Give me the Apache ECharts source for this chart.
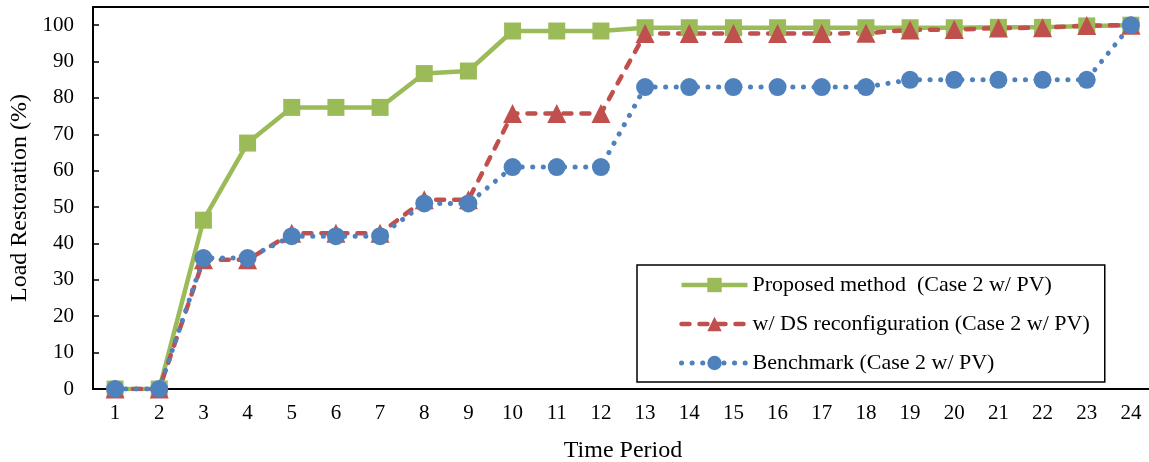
<!DOCTYPE html>
<html>
<head>
<meta charset="utf-8">
<script src="https://cdn.jsdelivr.net/npm/echarts@6/dist/echarts.min.js"></script>
<style>html,body{margin:0;padding:0;background:#fff}#c{width:1149px;height:462px}</style>
</head>
<body>
<div id="c"></div>
<script>
const categories = ['1','2','3','4','5','6','7','8','9','10','11','12','13','14','15','16','17','18','19','20','21','22','23','24'];
const proposed = [0,0,46.4,67.6,77.4,77.4,77.4,86.7,87.4,98.4,98.4,98.4,99.3,99.3,99.3,99.3,99.3,99.3,99.3,99.3,99.4,99.4,99.8,100];
const dsReconfig = [0,0,35.5,35.5,42.8,42.8,42.8,52,52,75.7,75.7,75.7,97.7,97.7,97.7,97.7,97.7,97.8,98.7,98.8,99.2,99.3,99.9,100];
const benchmark = [0,0,36,36,42,42,42,51,51,61,61,61,83,83,83,83,83,83,85,85,85,85,85,100];
const seriesNames = ['Proposed method  (Case 2 w/ PV)','w/ DS reconfiguration (Case 2 w/ PV)','Benchmark (Case 2 w/ PV)'];

const font = "'Liberation Serif', 'Times New Roman', serif";
const chart = echarts.init(document.getElementById('c'));
chart.setOption({
  animation: false,
  backgroundColor: '#fff',
  grid: { left: 93, right: -4, top: 7, bottom: 73, show: true, borderColor: '#000', borderWidth: 2,
          backgroundColor: 'transparent', outerBoundsMode: 'none', containLabel: false },
  legend: {
    orient: 'vertical', left: 637, top: 265,
    padding: [9, 15, 8, 42],
    itemWidth: 66, itemHeight: 18, itemGap: 17,
    borderColor: '#000', borderWidth: 1.5,
    lineStyle: { width: 'inherit' },
    textStyle: { fontFamily: font, fontSize: 22, color: '#000' },
    data: seriesNames
  },
  xAxis: {
    type: 'category', data: categories,
    name: 'Time Period', nameLocation: 'middle', nameGap: 50,
    nameTextStyle: { fontFamily: font, fontSize: 24, color: '#000' },
    axisLine: { lineStyle: { color: '#000', width: 2 } },
    axisTick: { inside: true, length: 5, lineStyle: { color: '#000', width: 1.5 } },
    axisLabel: { fontFamily: font, fontSize: 21, color: '#000', margin: 14 },
    splitLine: { show: false }
  },
  yAxis: {
    type: 'value', min: 0, max: 105, interval: 10,
    name: 'Load Restoration (%)', nameLocation: 'middle', nameGap: 56,
    nameTextStyle: { fontFamily: font, fontSize: 24, color: '#000' },
    axisLine: { show: true, lineStyle: { color: '#000', width: 2 } },
    axisTick: { show: true, inside: true, length: 6, lineStyle: { color: '#000', width: 1.5 } },
    axisLabel: { fontFamily: font, fontSize: 21, color: '#000', margin: 19, showMaxLabel: false },
    splitLine: { show: false }
  },
  series: [
    { name: seriesNames[0], type: 'line', data: proposed, symbol: 'rect', symbolSize: 17,
      itemStyle: { color: '#9BBB59' }, lineStyle: { color: '#9BBB59', width: 4.5 } },
    { name: seriesNames[1], type: 'line', data: dsReconfig, symbol: 'triangle', symbolSize: 19,
      itemStyle: { color: '#C0504D' }, lineStyle: { color: '#C0504D', width: 4.5, type: [8, 10], cap: 'round' } },
    { name: seriesNames[2], type: 'line', data: benchmark, symbol: 'circle', symbolSize: 18,
      itemStyle: { color: '#4F81BD' }, lineStyle: { color: '#4F81BD', width: 5, type: [0.1, 10.5], cap: 'round' } }
  ]
});
</script>
</body>
</html>
